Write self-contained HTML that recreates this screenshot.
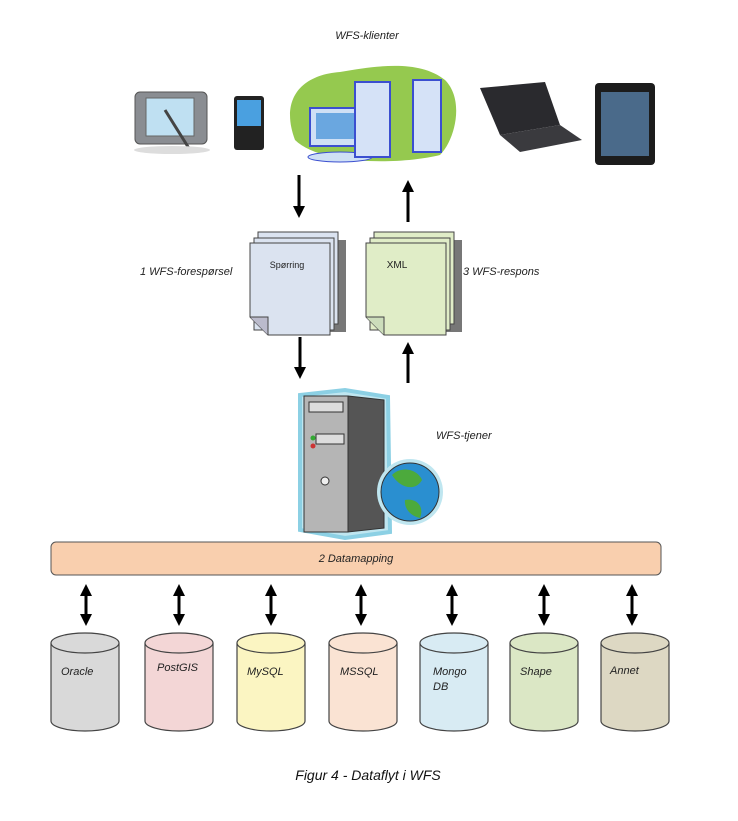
<!DOCTYPE html>
<html><head><style>
body{margin:0;background:#fff;}
svg{display:block;font-family:"Liberation Sans",sans-serif;}
.l{font-style:italic;font-size:11px;fill:#222;}
</style></head><body>
<svg width="738" height="821" viewBox="0 0 738 821">
<defs>
<marker id="ah" markerWidth="4" markerHeight="4" refX="2" refY="2" orient="auto" markerUnits="strokeWidth"><path d="M0,0L4,2L0,4z" fill="#000"/></marker>
<marker id="as" markerWidth="4" markerHeight="4" refX="2" refY="2" orient="auto-start-reverse" markerUnits="strokeWidth"><path d="M0,0L4,2L0,4z" fill="#000"/></marker>
</defs>
<text x="367" y="39" class="l" text-anchor="middle">WFS-klienter</text>
<rect x="135" y="92" width="72" height="52" rx="5" fill="#8a8d92" stroke="#555"/>
<rect x="146" y="98" width="48" height="38" fill="#bfe0f2" stroke="#666"/>
<line x1="165" y1="110" x2="190" y2="150" stroke="#444" stroke-width="3"/>
<ellipse cx="172" cy="150" rx="38" ry="4" fill="#ddd"/>
<rect x="234" y="96" width="30" height="54" rx="3" fill="#222"/>
<rect x="237" y="100" width="24" height="26" fill="#4aa0e0"/>
<path d="M295,140 C280,100 300,75 340,72 C380,65 420,60 445,80 C465,100 455,140 440,155 C400,165 320,165 295,140z" fill="#95c94f"/>
<rect x="310" y="108" width="52" height="38" fill="#cfe0f5" stroke="#3b4fd0" stroke-width="2"/>
<rect x="316" y="113" width="40" height="26" fill="#6aa7e0"/>
<ellipse cx="340" cy="157" rx="32" ry="5" fill="#cfe0f5" stroke="#3b4fd0"/>
<rect x="355" y="82" width="35" height="75" fill="#d5e2f7" stroke="#3b4fd0" stroke-width="2"/>
<rect x="413" y="80" width="28" height="72" fill="#d5e2f7" stroke="#3b4fd0" stroke-width="2"/>
<path d="M480,88 L545,82 L560,125 L500,135z" fill="#2a2a2e"/>
<path d="M500,135 L560,125 L582,140 L520,152z" fill="#3a3a3e"/>
<rect x="595" y="83" width="60" height="82" rx="4" fill="#1c1c1c"/>
<rect x="601" y="92" width="48" height="64" fill="#4a6a8a"/>
<line x1="299" y1="175" x2="299" y2="212" stroke="#000" stroke-width="3" marker-end="url(#ah)"/>
<line x1="408" y1="222" x2="408" y2="186" stroke="#000" stroke-width="3" marker-end="url(#ah)"/>
<g>
<rect x="266" y="240" width="80" height="92" fill="#777"/>
<rect x="258" y="232" width="80" height="92" fill="#dbe3f0" stroke="#444"/>
<rect x="254" y="238" width="80" height="92" fill="#dbe3f0" stroke="#444"/>
<path d="M250,243 L330,243 L330,335 L268,335 L250,317z" fill="#dbe3f0" stroke="#444"/>
<path d="M250,317 L268,317 L268,335" fill="#bbc" stroke="#444"/>
<text x="287" y="268" font-size="9" fill="#222" text-anchor="middle">Spørring</text>
</g>
<g>
<rect x="382" y="240" width="80" height="92" fill="#777"/>
<rect x="374" y="232" width="80" height="92" fill="#e0edc7" stroke="#444"/>
<rect x="370" y="238" width="80" height="92" fill="#e0edc7" stroke="#444"/>
<path d="M366,243 L446,243 L446,335 L384,335 L366,317z" fill="#e0edc7" stroke="#444"/>
<path d="M366,317 L384,317 L384,335" fill="#cdb" stroke="#444"/>
<text x="397" y="268" font-size="10" fill="#222" text-anchor="middle">XML</text>
</g>
<text x="140" y="275" class="l">1 WFS-forespørsel</text>
<text x="463" y="275" class="l">3 WFS-respons</text>
<line x1="300" y1="337" x2="300" y2="373" stroke="#000" stroke-width="3" marker-end="url(#ah)"/>
<line x1="408" y1="383" x2="408" y2="348" stroke="#000" stroke-width="3" marker-end="url(#ah)"/>
<path d="M300,395 L345,390 L388,397 L390,532 L345,538 L300,530z" fill="#bfe6f0" stroke="#8cd0e4" stroke-width="4"/>
<rect x="304" y="396" width="44" height="136" fill="#b5b5b5" stroke="#333"/>
<path d="M348,396 L384,400 L384,528 L348,532z" fill="#555" stroke="#333"/>
<rect x="309" y="402" width="34" height="10" fill="#ddd" stroke="#333"/>
<rect x="316" y="434" width="28" height="10" fill="#ddd" stroke="#333"/>
<circle cx="313" cy="438" r="2.5" fill="#3a3"/><circle cx="313" cy="446" r="2.5" fill="#c33"/>
<circle cx="325" cy="481" r="4" fill="#eee" stroke="#333"/>
<circle cx="410" cy="492" r="33" fill="#bfe6f0"/>
<circle cx="410" cy="492" r="29" fill="#2a8fd0" stroke="#333"/>
<path d="M392,475 C402,465 418,470 422,480 C415,492 400,488 392,475z" fill="#4caa3c"/>
<path d="M405,500 C415,498 425,505 420,518 C410,516 404,508 405,500z" fill="#4caa3c"/>
<text x="436" y="439" class="l">WFS-tjener</text>
<rect x="51" y="542" width="610" height="33" rx="5" fill="#f9cfae" stroke="#555"/>
<text x="356" y="562" class="l" text-anchor="middle">2 Datamapping</text>
<g stroke="#000" stroke-width="3" marker-end="url(#ah)" marker-start="url(#as)">
<line x1="86" y1="590" x2="86" y2="620"/><line x1="179" y1="590" x2="179" y2="620"/><line x1="271" y1="590" x2="271" y2="620"/><line x1="361" y1="590" x2="361" y2="620"/><line x1="452" y1="590" x2="452" y2="620"/><line x1="544" y1="590" x2="544" y2="620"/><line x1="632" y1="590" x2="632" y2="620"/>
</g>
<g stroke="#444" stroke-width="1.2">
<path d="M51,643 v78 a34,10 0 0 0 68,0 v-78" fill="#d9d9d9"/><ellipse cx="85" cy="643" rx="34" ry="10" fill="#d9d9d9"/>
<path d="M145,643 v78 a34,10 0 0 0 68,0 v-78" fill="#f3d6d6"/><ellipse cx="179" cy="643" rx="34" ry="10" fill="#f3d6d6"/>
<path d="M237,643 v78 a34,10 0 0 0 68,0 v-78" fill="#fbf5c2"/><ellipse cx="271" cy="643" rx="34" ry="10" fill="#fbf5c2"/>
<path d="M329,643 v78 a34,10 0 0 0 68,0 v-78" fill="#fae3d3"/><ellipse cx="363" cy="643" rx="34" ry="10" fill="#fae3d3"/>
<path d="M420,643 v78 a34,10 0 0 0 68,0 v-78" fill="#d8ebf3"/><ellipse cx="454" cy="643" rx="34" ry="10" fill="#d8ebf3"/>
<path d="M510,643 v78 a34,10 0 0 0 68,0 v-78" fill="#dbe7c5"/><ellipse cx="544" cy="643" rx="34" ry="10" fill="#dbe7c5"/>
<path d="M601,643 v78 a34,10 0 0 0 68,0 v-78" fill="#ddd8c3"/><ellipse cx="635" cy="643" rx="34" ry="10" fill="#ddd8c3"/>
</g>
<text x="61" y="675" class="l">Oracle</text>
<text x="157" y="671" class="l" font-size="8">PostGIS</text>
<text x="247" y="675" class="l" font-size="9">MySQL</text>
<text x="340" y="675" class="l" font-size="9">MSSQL</text>
<text x="433" y="675" class="l">Mongo</text>
<text x="433" y="690" class="l">DB</text>
<text x="520" y="675" class="l">Shape</text>
<text x="610" y="674" class="l">Annet</text>
<text x="368" y="780" font-size="14" font-style="italic" fill="#111" text-anchor="middle">Figur 4 - Dataflyt i WFS</text>
</svg>
</body></html>
